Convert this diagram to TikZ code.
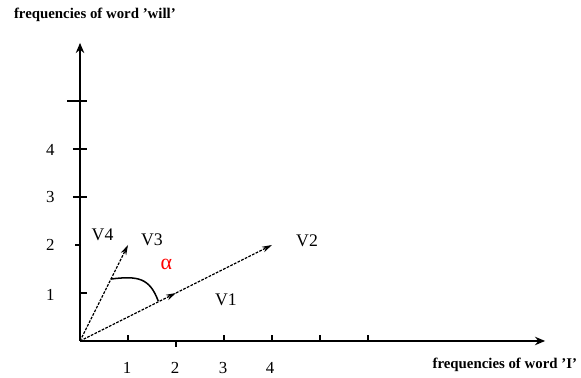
\documentclass[tikz,border=0pt]{standalone}
\usepackage{fontspec}
\setmainfont{Liberation Serif}
\usepackage{xcolor}
\usetikzlibrary{arrows.meta}

\begin{document}
\begin{tikzpicture}[
    axis/.style={line width=0.9pt, -{Stealth[length=6pt, width=5pt]}},
    tick/.style={line width=0.8pt},
    vec/.style={line width=0.7pt, dash pattern=on 1.6pt off 0.8pt, -{Stealth[length=6pt, width=3.5pt]}},
    num/.style={font=\fontsize{10}{12}\selectfont},
    vlbl/.style={font=\fontsize{10.5}{12}\selectfont},
    ttl/.style={font=\fontsize{8.8}{10}\selectfont\bfseries},
]
\useasboundingbox (-1.667,-0.771) rectangle (10.438,7.104);

% Axes
\coordinate (o) at (0,0);
\coordinate (xend) at (9.69,0);
\coordinate (yend) at (0,6.21);
\draw[axis] (o) -- (xend);
\draw[axis] (o) -- (yend);

% Ticks on the word 'I' axis
\draw[tick] (1,0) -- (1,0.13);
\draw[tick] (2,0) -- (2,-0.13);
\draw[tick] (3,0) -- (3,0.13);
\draw[tick] (4,0) -- (4,0.13);
\draw[tick] (5,0) -- (5,0.13);
\draw[tick] (6,0) -- (6,0.13);

% Ticks on the word 'will' axis
\draw[tick] (0,1) -- (0.14,1);
\draw[tick] (-0.1,2) -- (0.02,2);
\draw[tick] (-0.15,3) -- (0.15,3);
\draw[tick] (-0.15,4) -- (0.15,4);
\draw[tick] (-0.27,5) -- (0.15,5);
\draw[tick] (0,1.93) -- (0,2.07);

% Numbers
\node[num] (x1) at (0.98,-0.56) {1};
\node[num] (x2) at (1.98,-0.56) {2};
\node[num] (x3) at (2.98,-0.56) {3};
\node[num] (x4) at (3.96,-0.56) {4};
\node[num] (y1) at (-0.62,0.96) {1};
\node[num] (y2) at (-0.62,2.0) {2};
\node[num] (y3) at (-0.62,3.0) {3};
\node[num] (y4) at (-0.62,3.98) {4};

% Vectors
\coordinate (v1) at (2,1);
\coordinate (v2) at (4,2);
\coordinate (v3) at (1,2);
\draw[vec] (o) -- (v1);
\draw[vec] (v1) -- (v2);
\draw[vec] (o) -- (v3);

% Angle between V3 and V1
\coordinate (a1) at (0.64,1.29);
\coordinate (a2) at (1.63,0.83);
\draw[line width=0.9pt] (a1) .. controls (1.2,1.36) and (1.45,1.32) .. (a2);
\node[font=\fontsize{13}{14}\selectfont, text=red] (alpha) at (1.8,1.6) {α};

% Vector labels
\node[vlbl] (lv4) at (0.47,2.21) {V4};
\node[vlbl] (lv3) at (1.5,2.1) {V3};
\node[vlbl] (lv2) at (4.73,2.08) {V2};
\node[vlbl] (lv1) at (3.04,0.85) {V1};

% Axis titles
\node[ttl] (ty) at (0.31,6.79) {frequencies of word 'will'};
\node[ttl] (tx) at (8.85,-0.5) {frequencies of word 'I'};

\end{tikzpicture}
\end{document}
